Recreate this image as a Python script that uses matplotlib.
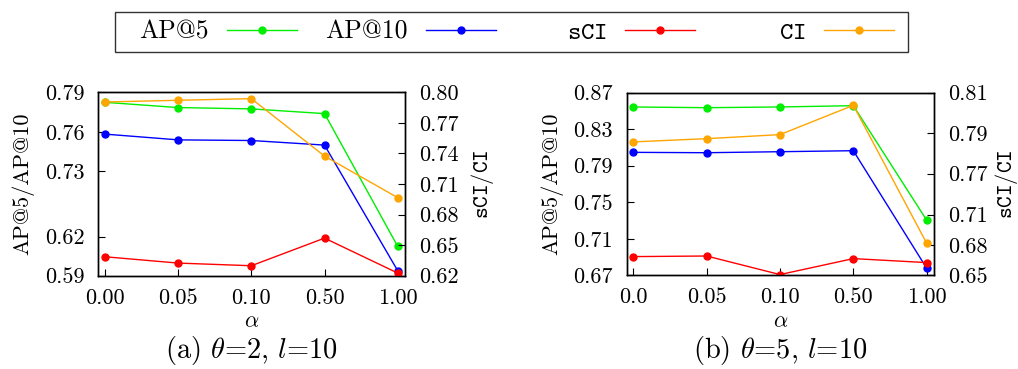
import numpy as np
import matplotlib
matplotlib.use('Agg')
import matplotlib.pyplot as plt
from matplotlib.patches import Rectangle

plt.rcParams['font.family'] = ['cmr10', 'DejaVu Serif']
plt.rcParams['mathtext.fontset'] = 'cm'
plt.rcParams['axes.formatter.use_mathtext'] = True
plt.rcParams['axes.unicode_minus'] = False

# ---------------- data ----------------
alpha_labels_a = ['0.00', '0.05', '0.10', '0.50', '1.00']
alpha_labels_b = ['0.0', '0.05', '0.10', '0.50', '1.00']

ap5_a = [0.7824, 0.7784, 0.7774, 0.7738, 0.6125]
ap10_a = [0.7582, 0.7538, 0.7533, 0.7498, 0.5938]
sci_a = [0.6386, 0.6324, 0.6298, 0.6569, 0.6226]
ci_a = [0.7905, 0.7922, 0.7938, 0.7374, 0.6966]

ap5_b = [0.8543, 0.8535, 0.8543, 0.8557, 0.7303]
ap10_b = [0.8046, 0.8042, 0.8053, 0.8064, 0.6777]
sci_b = [0.6687, 0.6693, 0.6507, 0.6667, 0.6627]
ci_b = [0.7856, 0.7872, 0.7892, 0.8037, 0.6820]

left_ticks_a = [0.59, 0.62, 0.73, 0.76, 0.79]
right_ticks_a = [0.62, 0.65, 0.68, 0.71, 0.74, 0.77, 0.80]
left_ticks_b = [0.67, 0.71, 0.75, 0.79, 0.83, 0.87]
right_ticks_b = [0.65, 0.68, 0.71, 0.77, 0.79, 0.81]

series_names = ['AP@5', 'AP@10', r'$\mathtt{sCI}$', r'$\mathtt{CI}$']
series_colors = ['#00ee00', '#0000ff', '#ff0000', '#ffa500']

# relative tick spacing on the two non-uniform axes (as drawn in the original)
left_pos_a = [0.0, 0.2127, 0.571, 0.785, 1.0]
right_pos_b = [0.0, 0.164, 0.332, 0.557, 0.779, 1.0]


def piecewise(vals, pos):
    vals = np.asarray(vals, float)
    pos = np.asarray(pos, float)

    def mk(a, b):
        s0 = (b[1] - b[0]) / (a[1] - a[0])
        s1 = (b[-1] - b[-2]) / (a[-1] - a[-2])

        def f(v):
            v = np.asarray(v, float)
            out = np.interp(v, a, b)
            out = np.where(v < a[0], b[0] + (v - a[0]) * s0, out)
            out = np.where(v > a[-1], b[-1] + (v - a[-1]) * s1, out)
            return out
        return f
    return mk(vals, pos), mk(pos, vals)


FS = 16
fig = plt.figure(figsize=(10.18, 3.69), dpi=100)

axes_rects = [[0.0966, 0.2528, 0.3013, 0.497], [0.6156, 0.2540, 0.3019, 0.495]]
panels = [
    dict(xl=alpha_labels_a, ap5=ap5_a, ap10=ap10_a, sci=sci_a, ci=ci_a,
         lt=left_ticks_a, rt=right_ticks_a, lscale=(left_ticks_a, left_pos_a), rscale=None,
         title=r'(a) $\theta$=2, $l$=10', lx=-0.2455, rx=1.2527),
    dict(xl=alpha_labels_b, ap5=ap5_b, ap10=ap10_b, sci=sci_b, ci=ci_b,
         lt=left_ticks_b, rt=right_ticks_b, lscale=None, rscale=(right_ticks_b, right_pos_b),
         title=r'(b) $\theta$=5, $l$=10', lx=-0.2415, rx=1.236),
]

handles = None
for rect, p in zip(axes_rects, panels):
    ax = fig.add_axes(rect)
    ax2 = ax.twinx()
    x = np.arange(len(p['xl']))
    if p['lscale'] is not None:
        ax.set_yscale('function', functions=piecewise(*p['lscale']))
    if p['rscale'] is not None:
        ax2.set_yscale('function', functions=piecewise(*p['rscale']))
    h1, = ax.plot(x, p['ap5'], color=series_colors[0], marker='o', ms=5, lw=1.0)
    h2, = ax.plot(x, p['ap10'], color=series_colors[1], marker='o', ms=5, lw=1.0)
    h3, = ax2.plot(x, p['sci'], color=series_colors[2], marker='o', ms=5, lw=1.0)
    h4, = ax2.plot(x, p['ci'], color=series_colors[3], marker='o', ms=5, lw=1.0)
    handles = [h1, h2, h3, h4]

    ax.set_xlim(-0.09, 4.1)
    ax.set_ylim(p['lt'][0], p['lt'][-1])
    ax2.set_ylim(p['rt'][0], p['rt'][-1])
    ax.set_xticks(x)
    ax.set_xticklabels(p['xl'])
    ax.set_yticks(p['lt'])
    ax.set_yticklabels(['%.2f' % v for v in p['lt']])
    ax2.set_yticks(p['rt'])
    ax2.set_yticklabels(['%.2f' % v for v in p['rt']])
    ax.minorticks_off()
    ax2.minorticks_off()

    ax.tick_params(axis='both', direction='in', length=5, width=0.8, labelsize=FS,
                   top=False, right=False)
    ax.tick_params(axis='y', pad=10)
    ax.tick_params(axis='x', pad=9)
    ax2.tick_params(axis='y', direction='in', length=5, width=0.8, labelsize=FS, pad=10)
    for a in (ax, ax2):
        for s in a.spines.values():
            s.set_linewidth(1.0)

    ax.set_ylabel('AP@5/AP@10', fontsize=FS)
    ax.yaxis.set_label_coords(p['lx'], 0.5)
    ax.yaxis.label.set_verticalalignment('center')
    ax2.set_ylabel(r'$\mathtt{sCI}/\mathtt{CI}$', fontsize=FS)
    ax2.yaxis.set_label_coords(p['rx'], 0.5)
    ax2.yaxis.label.set_verticalalignment('center')
    ax.set_xlabel(r'$\alpha$', fontsize=FS, labelpad=3)
    ax.text(0.5, -0.41, p['title'], transform=ax.transAxes, ha='center', va='center',
            fontsize=20.5)

# legend: one entry per slot, framed box around all
LFS = 18.5
legend_right_px = [297, 496, 695, 894]
for hnd, name, xr in zip(handles, series_names, legend_right_px):
    fig.legend([hnd], [name], loc='center right', bbox_to_anchor=(xr / 1018, 1 - 32 / 369),
               frameon=False, markerfirst=False, fontsize=LFS, borderpad=0, borderaxespad=0,
               handlelength=2.72, handletextpad=0.7)
fig.add_artist(Rectangle((115 / 1018, 1 - 52 / 369), 793 / 1018, 40 / 369,
                         transform=fig.transFigure, fill=False, edgecolor='#333333', lw=1.0))

fig.savefig('out.png', dpi=100)
